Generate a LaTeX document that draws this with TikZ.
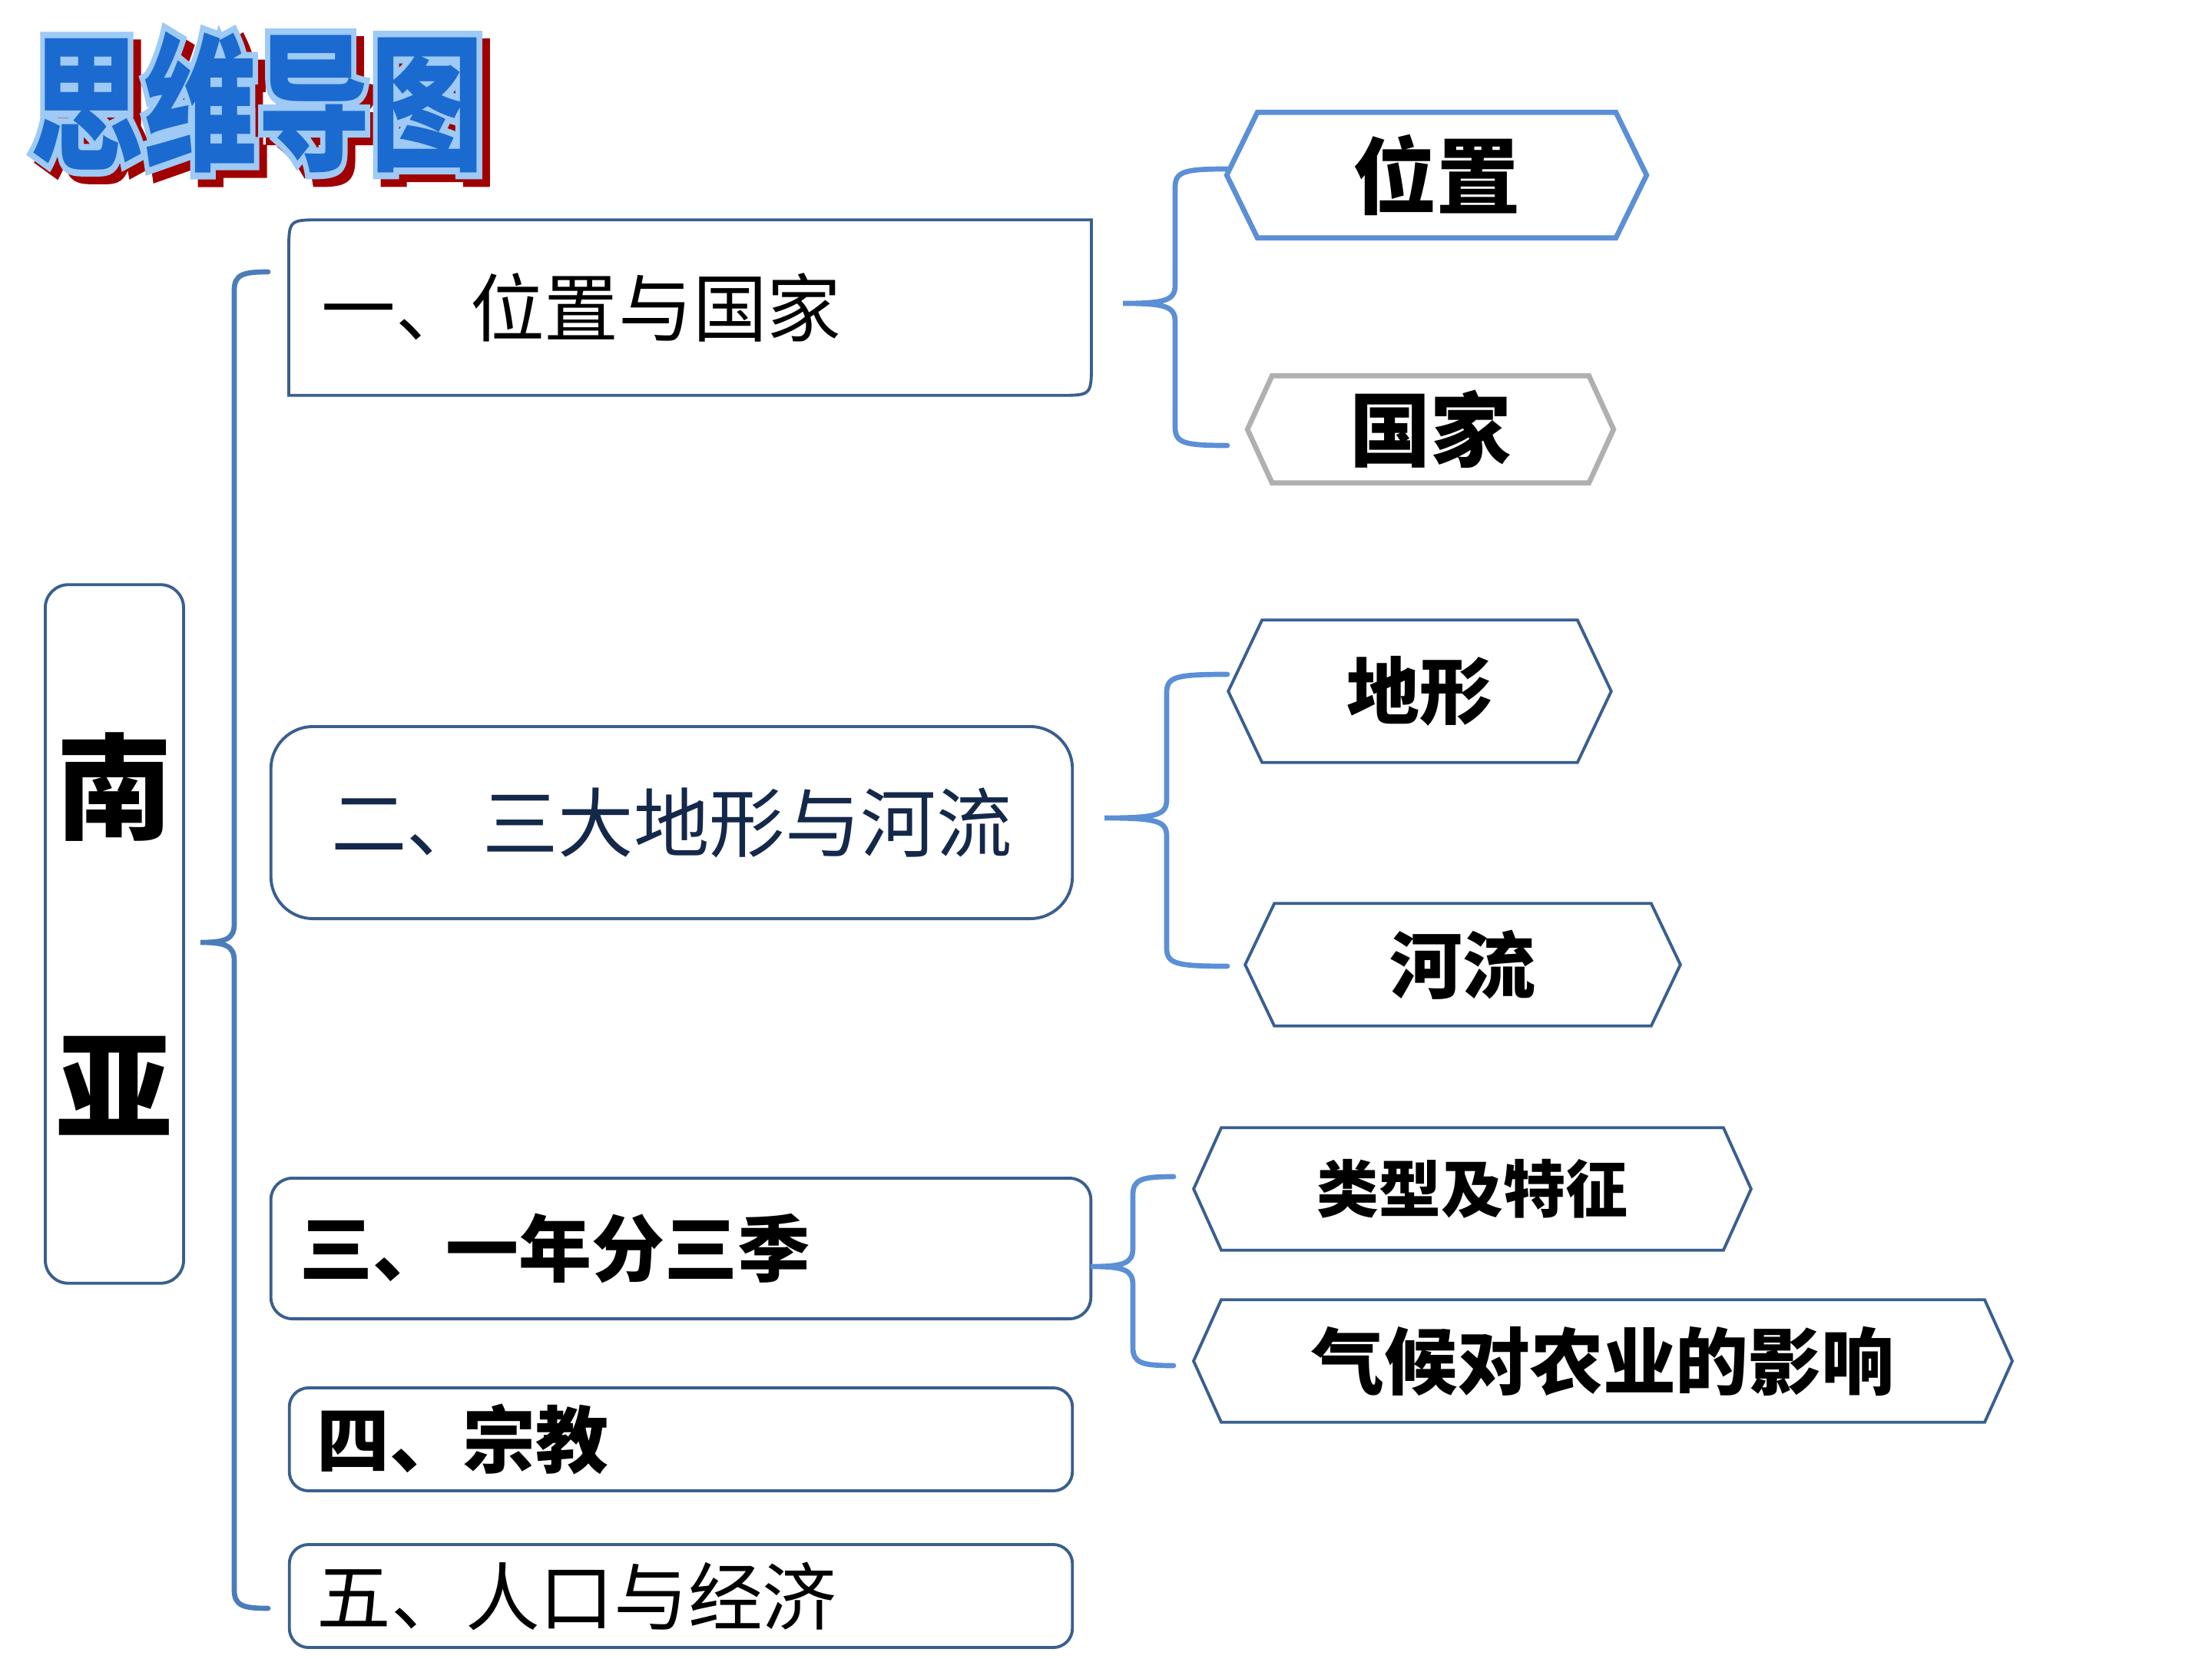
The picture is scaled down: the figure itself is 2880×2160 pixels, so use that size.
\documentclass[tikz,border=0pt]{standalone}
\usepackage{fontspec}
\usepackage{graphicx}
\newfontfamily\cjk{Noto Sans CJK SC}
\newfontfamily\cjkout{Noto Sans CJK SC}[BoldFeatures={FakeBold=9}]
\usetikzlibrary{calc}
\definecolor{boxc}{HTML}{3A5F8F}
\definecolor{bigbr}{HTML}{4A7DBA}
\definecolor{smbr}{HTML}{5B8FD6}
\definecolor{greyb}{HTML}{B0B0B0}
\definecolor{navy}{HTML}{14284A}
\definecolor{tblue}{HTML}{1A6AD0}
\definecolor{tlight}{HTML}{9ECAF5}
\definecolor{tred}{HTML}{A00000}
\tikzset{
  mainbox/.style={draw=boxc, line width=1.1pt, inner sep=0pt},
  leftbox/.style={inner ysep=0pt, align=left},
  hexnode/.style={inner sep=0pt},
  hexline/.style={draw=boxc, line width=1.1pt, line join=miter},
  bigbrace/.style={draw=bigbr, line width=1.9pt, line cap=round},
  smallbrace/.style={draw=smbr, line width=1.9pt, line cap=round},
  titletext/.style={inner sep=0pt, font=\cjk\bfseries\fontsize{42pt}{46pt}\selectfont},
  titleout/.style={inner sep=0pt, font=\cjkout\bfseries\fontsize{42pt}{46pt}\selectfont}
}
\newcommand\hexdraw[3]{\draw[#3] (#1.north west) -- (#1.north east) -- ($(#1.east)+(#2,0)$) -- (#1.south east) -- (#1.south west) -- ($(#1.west)-(#2,0)$) -- cycle;}
% #1 style, #2 end x, #3 vertical x, #4 top y, #5 tip x, #6 tip y, #7 bottom y
\newcommand\brc[7]{\draw[#1] (#2,#4) .. controls (#3+12,#4) and (#3,#4+3) .. (#3,#4+24) -- (#3,#6-24) .. controls (#3,#6-4) and (#3-12,#6) .. (#5,#6) .. controls (#3-12,#6) and (#3,#6+4) .. (#3,#6+24) -- (#3,#7-24) .. controls (#3,#7-3) and (#3+12,#7) .. (#2,#7);}
\begin{document}
\begin{tikzpicture}[x=0.01cm,y=-0.01cm]
\useasboundingbox (0,0) rectangle (2880,2160);
\fill[white] (0,0) rectangle (2880,2160);

% title: shadow, light outline, blue face
\node[titleout, text=tred] (tshadow) at (345,143) {\scalebox{1}[1.3]{思维导图}};
\node[titleout, text=tlight] (toutline) at (335,133) {\scalebox{1}[1.3]{思维导图}};
\node[titletext, text=tblue] (title) at (335,133) {\scalebox{1}[1.3]{思维导图}};

% root
\node[mainbox, rounded corners=0.3cm, minimum width=1.8cm, minimum height=9.09cm, align=center,
      font=\cjk\bfseries\fontsize{43pt}{110.5pt}\selectfont] (root) at (149,1216) {南\\亚};

% level-1 boxes
\node[leftbox, inner xsep=0.42cm, text width=9.59cm, minimum height=2.27cm,
      font=\cjk\fontsize{27.5pt}{30pt}\selectfont] (b1) at (898.5,400.5) {一、位置与国家};
\draw[draw=boxc, line width=1.1pt] (b1.south west) -- ($(b1.north west)+(0,42)$) .. controls (b1.north west) .. ($(b1.north west)+(42,0)$)
  -- (b1.north east) -- ($(b1.south east)+(0,-42)$) .. controls (b1.south east) .. ($(b1.south east)+(-42,0)$) -- cycle;

\node[mainbox, rounded corners=0.55cm, minimum width=10.43cm, minimum height=2.5cm, text=navy,
      font=\cjk\fontsize{28pt}{30pt}\selectfont] (b2) at (874.5,1071) {二、三大地形与河流};

\node[mainbox, leftbox, rounded corners=0.28cm, inner xsep=0.38cm, text width=9.91cm, minimum height=1.83cm,
      font=\cjk\bfseries\fontsize{27pt}{30pt}\selectfont] (b3) at (886.5,1625.5) {三、一年分三季};

\node[mainbox, leftbox, rounded corners=0.25cm, inner xsep=0.36cm, text width=9.47cm, minimum height=1.34cm,
      font=\cjk\bfseries\fontsize{27pt}{30pt}\selectfont] (b4) at (886.5,1874) {四、宗教};

\node[mainbox, leftbox, rounded corners=0.25cm, inner xsep=0.36cm, text width=9.47cm, minimum height=1.34cm,
      font=\cjk\fontsize{27.5pt}{30pt}\selectfont] (b5) at (886.5,2078) {五、人口与经济};

% level-2 hexagons
\node[hexnode, minimum width=4.65cm, minimum height=1.62cm, font=\cjk\bfseries\fontsize{31pt}{34pt}\selectfont] (wz) at (1870.5,228) {位置};
\hexdraw{wz}{40}{draw=smbr, line width=1.9pt, line join=miter}
\node[hexnode, minimum width=4.11cm, minimum height=1.38cm, font=\cjk\bfseries\fontsize{30pt}{33pt}\selectfont] (gj) at (1862.5,559) {国家};
\hexdraw{gj}{32}{draw=greyb, line width=1.9pt, line join=miter}

\node[hexnode, minimum width=4.09cm, minimum height=1.84cm, font=\cjk\bfseries\fontsize{27pt}{30pt}\selectfont] (dx) at (1848.5,900) {地形};
\hexdraw{dx}{44}{hexline}
\node[hexnode, minimum width=4.89cm, minimum height=1.58cm, font=\cjk\bfseries\fontsize{27pt}{30pt}\selectfont] (hl) at (1904.5,1256) {河流};
\hexdraw{hl}{38}{hexline}

\node[hexnode, minimum width=6.52cm, minimum height=1.58cm, font=\cjk\bfseries\fontsize{23pt}{26pt}\selectfont] (lx) at (1917,1548) {类型及特征};
\hexdraw{lx}{36}{hexline}
\node[hexnode, minimum width=9.92cm, minimum height=1.58cm, font=\cjk\bfseries\fontsize{27pt}{30pt}\selectfont] (qh) at (2087,1772) {气候对农业的影响};
\hexdraw{qh}{36}{hexline}

% braces
\brc{bigbrace}{349}{305}{354}{261}{1227}{2094}
\brc{smallbrace}{1598}{1530}{220}{1462}{395}{580}
\brc{smallbrace}{1598}{1519}{878}{1438}{1065}{1258}
\brc{smallbrace}{1528}{1475}{1532}{1420}{1649}{1778}
\end{tikzpicture}
\end{document}
